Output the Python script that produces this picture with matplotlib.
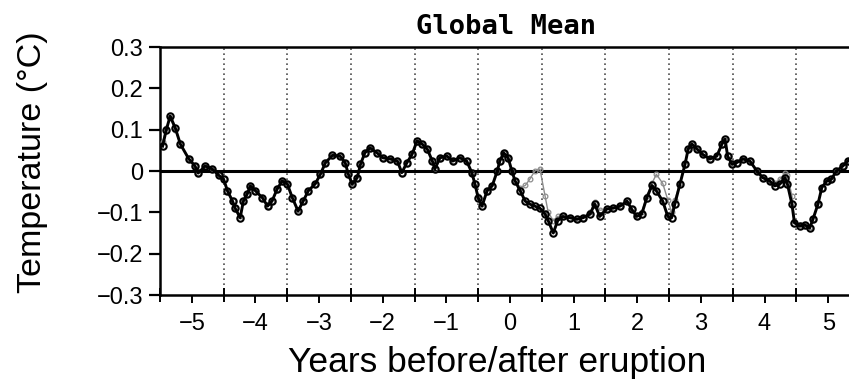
import numpy as np
import matplotlib.pyplot as plt
from matplotlib.ticker import MultipleLocator

# monthly-ish global mean temperature anomaly around eruptions
years = [-5.46, -5.40, -5.34, -5.26, -5.18, -5.05, -4.95, -4.90, -4.79, -4.68,
         -4.58, -4.50, -4.44, -4.36, -4.32, -4.24, -4.19, -4.13, -4.08, -4.00,
         -3.89, -3.81, -3.74, -3.66, -3.58, -3.50, -3.42, -3.33, -3.25, -3.17,
         -3.06, -2.98, -2.90, -2.79, -2.67, -2.59, -2.54, -2.48, -2.40, -2.35,
         -2.28, -2.20, -2.09, -2.00, -1.88, -1.77, -1.70, -1.62, -1.54, -1.46,
         -1.38, -1.30, -1.22, -1.18, -1.10, -0.99, -0.90, -0.79, -0.68, -0.60,
         -0.55, -0.50, -0.44, -0.36, -0.28, -0.20, -0.16, -0.10, -0.03, 0.03,
         0.08, 0.16, 0.24, 0.31, 0.39, 0.47, 0.55, 0.60, 0.68, 0.75,
         0.83, 0.94, 1.05, 1.15, 1.26, 1.33, 1.41, 1.52, 1.62, 1.73,
         1.84, 1.91, 1.99, 2.07, 2.15, 2.23, 2.30, 2.40, 2.48, 2.54,
         2.59, 2.67, 2.75, 2.80, 2.86, 2.94, 3.03, 3.14, 3.25, 3.33,
         3.38, 3.42, 3.49, 3.56, 3.66, 3.77, 3.88, 3.97, 4.08, 4.16,
         4.24, 4.32, 4.36, 4.43, 4.47, 4.55, 4.63, 4.71, 4.76, 4.84,
         4.90, 4.98, 5.05, 5.13, 5.23, 5.31, 5.40]

temp_all = [0.060, 0.100, 0.133, 0.104, 0.065, 0.030, 0.012, -0.005, 0.012, 0.005,
            -0.010, -0.020, -0.048, -0.073, -0.090, -0.113, -0.073, -0.056, -0.036, -0.048,
            -0.065, -0.085, -0.073, -0.044, -0.024, -0.031, -0.065, -0.097, -0.073, -0.048,
            -0.031, -0.008, 0.020, 0.038, 0.036, 0.020, -0.008, -0.032, -0.016, 0.016,
            0.044, 0.056, 0.044, 0.032, 0.029, 0.024, -0.004, 0.020, 0.040, 0.073,
            0.065, 0.053, 0.024, 0.005, 0.032, 0.036, 0.024, 0.032, 0.024, -0.004,
            -0.032, -0.065, -0.085, -0.048, -0.036, 0.000, 0.024, 0.044, 0.032, 0.000,
            -0.024, -0.048, -0.073, -0.080, -0.085, -0.090, -0.104, -0.120, -0.150, -0.120,
            -0.110, -0.113, -0.117, -0.113, -0.104, -0.080, -0.110, -0.092, -0.090, -0.085,
            -0.073, -0.092, -0.110, -0.104, -0.065, -0.035, -0.048, -0.073, -0.110, -0.113,
            -0.080, -0.032, 0.016, 0.053, 0.065, 0.053, 0.040, 0.029, 0.036, 0.065,
            0.077, 0.036, 0.016, 0.020, 0.029, 0.024, 0.000, -0.016, -0.024, -0.036,
            -0.032, -0.016, -0.032, -0.080, -0.125, -0.133, -0.130, -0.138, -0.117, -0.080,
            -0.040, -0.024, -0.020, 0.000, 0.012, 0.024, 0.035]

temp_alt = [0.070, 0.105, 0.128, 0.100, 0.065, 0.030, 0.012, -0.005, 0.012, 0.005,
            -0.010, -0.020, -0.048, -0.073, -0.090, -0.110, -0.073, -0.056, -0.036, -0.048,
            -0.065, -0.085, -0.073, -0.044, -0.024, -0.031, -0.065, -0.095, -0.073, -0.048,
            -0.031, -0.008, 0.020, 0.038, 0.036, 0.020, -0.008, -0.030, -0.016, 0.016,
            0.044, 0.056, 0.044, 0.032, 0.029, 0.024, -0.004, 0.020, 0.040, 0.070,
            0.065, 0.053, 0.024, 0.005, 0.032, 0.036, 0.024, 0.032, 0.024, -0.004,
            -0.030, -0.060, -0.080, -0.048, -0.036, 0.000, 0.024, 0.044, 0.032, 0.000,
            -0.024, -0.040, -0.035, -0.020, 0.000, 0.005, -0.060, -0.100, -0.120, -0.110,
            -0.110, -0.113, -0.117, -0.113, -0.100, -0.075, -0.095, -0.092, -0.090, -0.085,
            -0.073, -0.092, -0.110, -0.100, -0.060, -0.030, -0.008, -0.030, -0.070, -0.100,
            -0.070, -0.030, 0.016, 0.053, 0.065, 0.053, 0.040, 0.029, 0.036, 0.065,
            0.075, 0.036, 0.016, 0.020, 0.029, 0.024, 0.000, -0.016, -0.024, -0.030,
            -0.020, -0.005, -0.010, -0.060, -0.120, -0.130, -0.130, -0.135, -0.117, -0.080,
            -0.040, -0.024, -0.020, 0.000, 0.012, 0.024, 0.035]

ytick_vals = [-0.3, -0.2, -0.1, 0, 0.1, 0.2, 0.3]
ytick_labels = ["\u22120.3", "\u22120.2", "\u22120.1", "0", "0.1", "0.2", "0.3"]
xtick_vals = [-5, -4, -3, -2, -1, 0, 1, 2, 3, 4, 5]
xtick_labels = ["\u22125", "\u22124", "\u22123", "\u22122", "\u22121", "0", "1", "2", "3", "4", "5"]

plt.rcParams['font.family'] = ['Liberation Sans', 'DejaVu Sans']

fig = plt.figure(figsize=(8.49, 3.80), dpi=100)
# axes run past the right edge of the figure on purpose
ax = fig.add_axes([160/849, 85/380, 700/849, 248/380])

ax.set_xlim(-5.5, 5.5)
ax.set_ylim(-0.3, 0.3)

# dotted guides between years
for g in np.arange(-4.5, 5.0, 1.0):
    ax.axvline(g, color='0.3', lw=1.2, ls=(0, (1, 2)), zorder=1)
ax.axhline(0, color='black', lw=2.2, zorder=2)

ax.plot(years, temp_alt, color='0.55', lw=1.0, marker='o', ms=3.4,
        mfc='none', mew=0.9, zorder=3)
ax.plot(years, temp_all, color='black', lw=2.1, marker='o', ms=4.6,
        mfc='none', mew=1.5, zorder=4)

ax.set_yticks(ytick_vals)
ax.set_yticklabels(ytick_labels)
ax.set_xticks(xtick_vals)
ax.set_xticklabels(xtick_labels)
ax.xaxis.set_minor_locator(MultipleLocator(0.5))
ax.tick_params(axis='y', direction='out', length=8, width=1.6, pad=4, labelsize=17)
ax.tick_params(axis='x', which='major', direction='out', length=6, width=1.4,
               pad=7, labelsize=17)
ax.tick_params(axis='x', which='minor', direction='inout', length=10, width=1.4)

for side in ['left', 'bottom', 'top']:
    ax.spines[side].set_linewidth(1.8)
ax.spines['right'].set_visible(False)

ax.set_ylabel("Temperature (\u00b0C)", fontsize=24.5)
ax.yaxis.set_label_coords(-0.16, 0.536)
ax.set_xlabel("Years before/after eruption", fontsize=25.5)
ax.xaxis.set_label_coords(0.481, -0.205)
fig.text(506/849, 1 - 27/380, "Global Mean", ha='center', va='center',
         fontsize=19.5, fontweight='bold', family='DejaVu Sans Mono')

fig.savefig("out.png", dpi=100)
